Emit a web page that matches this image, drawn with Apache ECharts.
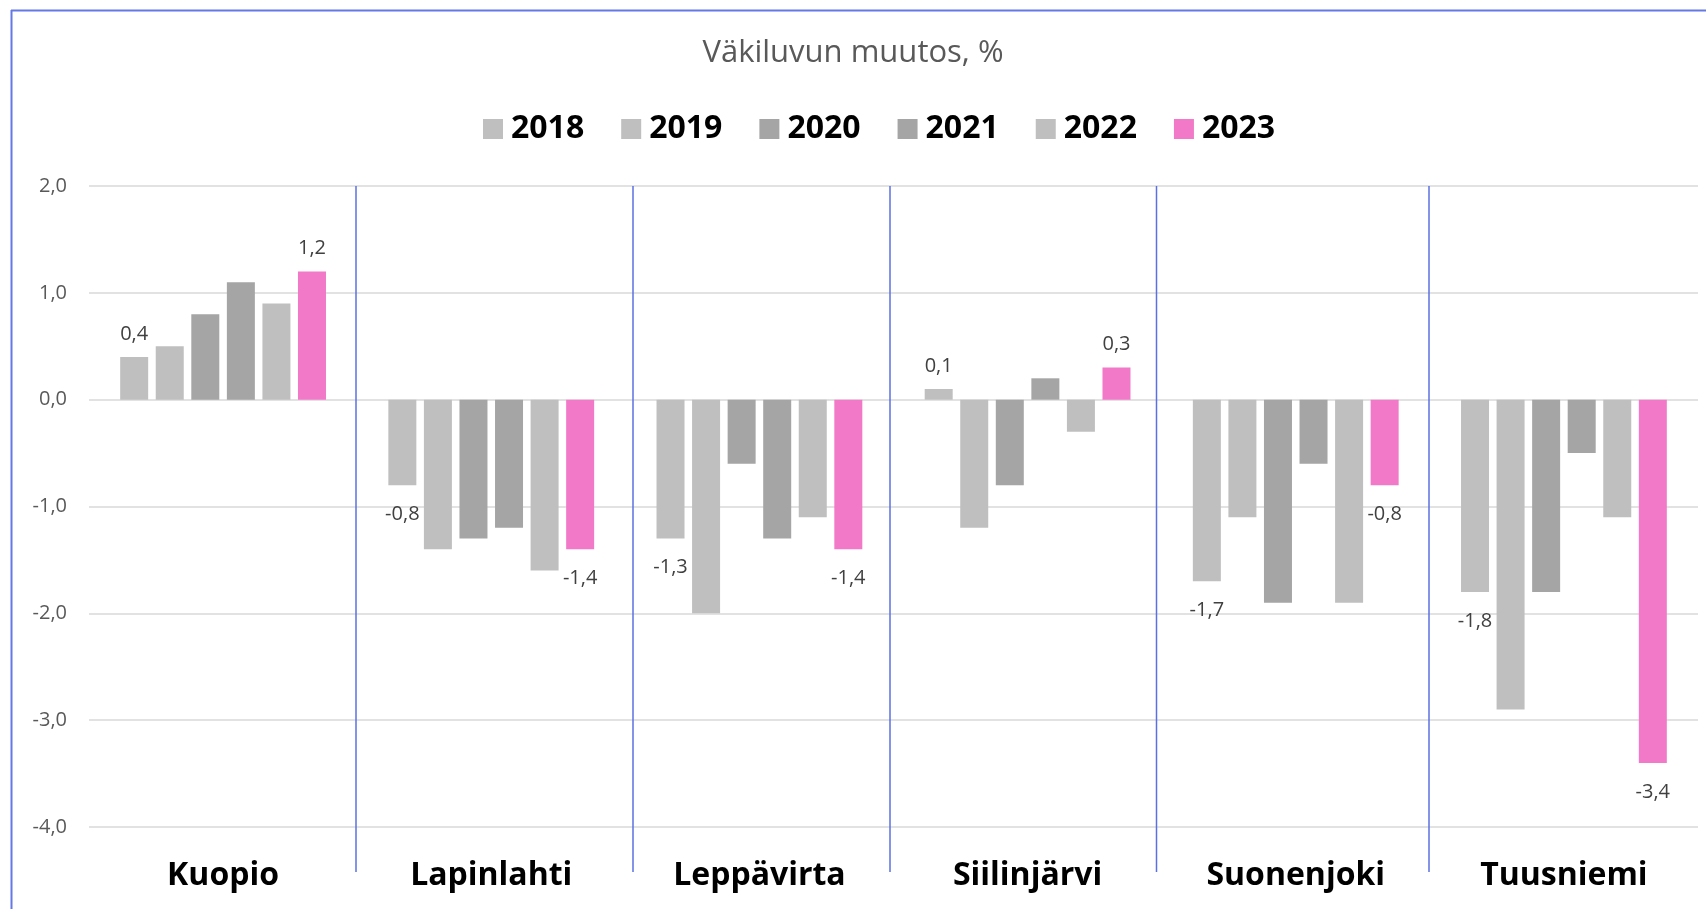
<!DOCTYPE html>
<html>
<head>
<meta charset="utf-8">
<script src="https://cdn.jsdelivr.net/npm/echarts@6/dist/echarts.min.js"></script>
<style>html,body{margin:0;padding:0;background:#fff}#c{width:1706px;height:909px}</style>
</head>
<body>
<div id="c"></div>
<script>
var categories = ['Kuopio', 'Lapinlahti', 'Leppävirta', 'Siilinjärvi', 'Suonenjoki', 'Tuusniemi'];
var years = ['2018', '2019', '2020', '2021', '2022', '2023'];
var v2018 = [0.4, -0.8, -1.3, 0.1, -1.7, -1.8];
var v2019 = [0.5, -1.4, -2.0, -1.2, -1.1, -2.9];
var v2020 = [0.8, -1.3, -0.6, -0.8, -1.9, -1.8];
var v2021 = [1.1, -1.2, -1.3, 0.2, -0.6, -0.5];
var v2022 = [0.9, -1.6, -1.1, -0.3, -1.9, -1.1];
var v2023 = [1.2, -1.4, -1.4, 0.3, -0.8, -3.4];
var yTicks = [-4, -3, -2, -1, 0, 1, 2];

var values = [v2018, v2019, v2020, v2021, v2022, v2023];
var colors = ['#BFBFBF', '#BFBFBF', '#A5A5A5', '#A5A5A5', '#BFBFBF', '#F279C8'];
var labelled = [true, false, false, false, false, true];
var fmt = function (v) { return Number(v).toFixed(1).replace('.', ','); };

var series = years.map(function (y, i) {
  return {
    name: y,
    type: 'bar',
    barWidth: 28,
    barGap: '27%',
    itemStyle: { color: colors[i] },
    emphasis: { disabled: true },
    data: values[i].map(function (v) {
      return {
        value: v,
        label: {
          show: labelled[i],
          position: v >= 0 ? 'top' : 'bottom',
          distance: v >= 0 ? 13 : 19,
          formatter: function (p) { return fmt(p.value); },
          fontSize: 20,
          color: '#404040',
          fontFamily: 'Open Sans'
        }
      };
    })
  };
});

// decorative hand-placed separator lines of the original (layout, not data)
var sepX = [356, 633, 890, 1156.5, 1429];
var graphics = [
  { type: 'line', shape: { x1: 11, y1: 10.5, x2: 1706, y2: 10.5 }, style: { stroke: '#6478E6', lineWidth: 2 }, z: 100 },
  { type: 'line', shape: { x1: 11.5, y1: 10, x2: 11.5, y2: 909 }, style: { stroke: '#6478E6', lineWidth: 2 }, z: 100 }
];
sepX.forEach(function (x) {
  graphics.push({ type: 'line', shape: { x1: x, y1: 186, x2: x, y2: 872 }, style: { stroke: '#5B70E2', lineWidth: 1.5 }, z: 100 });
});

var chart = echarts.init(document.getElementById('c'), null, { renderer: 'canvas' });
chart.setOption({
  animation: false,
  backgroundColor: '#fff',
  title: {
    text: 'Väkiluvun muutos, %',
    left: 'center',
    top: 33,
    textStyle: { fontSize: 31, fontWeight: 'normal', color: '#595959', fontFamily: 'Open Sans' }
  },
  legend: {
    data: years,
    top: 108,
    left: 478,
    icon: 'rect',
    itemWidth: 20,
    itemHeight: 20,
    itemGap: 37,
    textStyle: { fontSize: 32, fontWeight: 'bold', color: '#000', fontFamily: 'Open Sans', padding: [0, 0, 0, 3] }
  },
  grid: { left: 89, right: 8, top: 186, bottom: 82, containLabel: false },
  xAxis: {
    type: 'category', data: categories,
    axisLine: { show: false, onZero: false },
    axisTick: { show: false },
    splitLine: { show: false },
    axisLabel: { margin: 33, fontSize: 32, fontWeight: 'bold', color: '#000', fontFamily: 'Open Sans' }
  },
  yAxis: {
    type: 'value',
    min: yTicks[0], max: yTicks[yTicks.length - 1], interval: 1,
    axisLine: { show: false }, axisTick: { show: false },
    splitLine: { lineStyle: { color: '#D9D9D9', width: 1.5 } },
    axisLabel: { margin: 22, fontSize: 20, color: '#595959', fontFamily: 'Open Sans', formatter: fmt }
  },
  graphic: graphics,
  series: series
});
</script>
</body>
</html>
